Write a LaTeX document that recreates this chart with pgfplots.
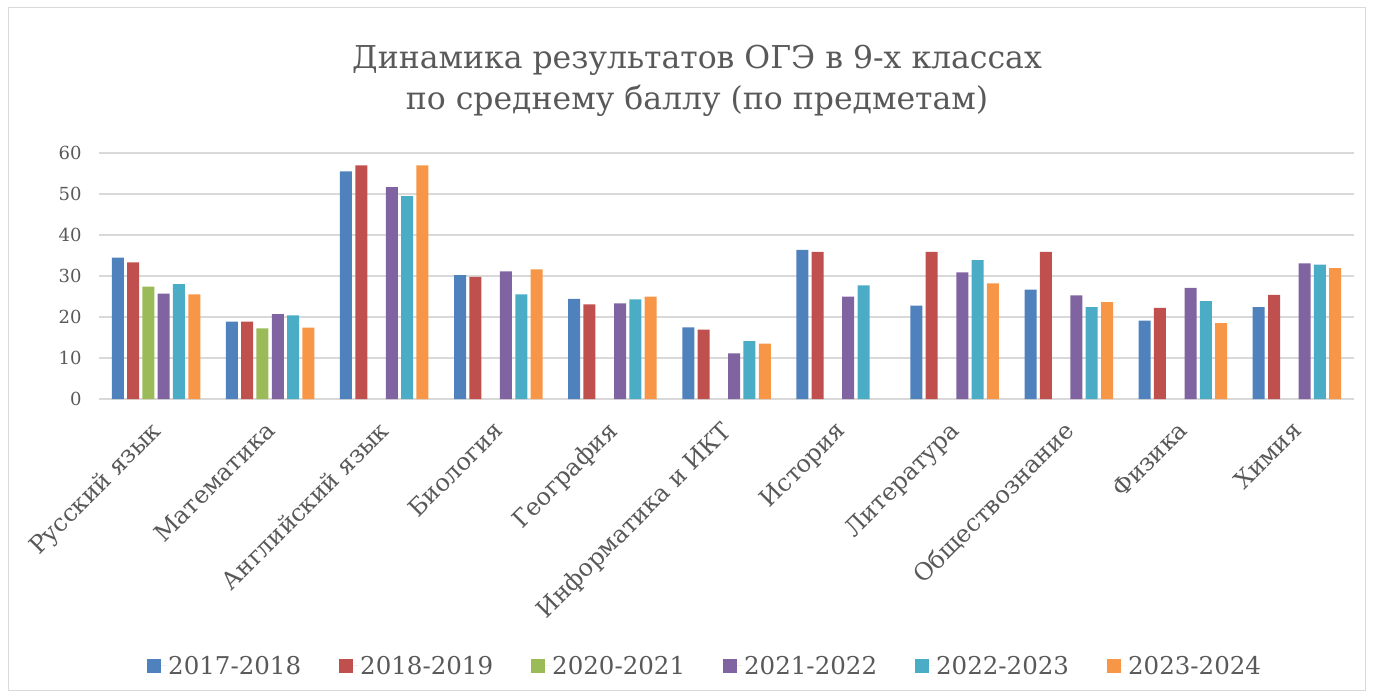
\documentclass[border=0pt]{standalone}
\usepackage{fontspec}
\setmainfont{DejaVu Serif}
\usepackage{pgfplots}
\pgfplotsset{compat=1.18}
\definecolor{c1}{HTML}{4F81BD}
\definecolor{c2}{HTML}{C0504D}
\definecolor{c3}{HTML}{9BBB59}
\definecolor{c4}{HTML}{8064A2}
\definecolor{c5}{HTML}{4BACC6}
\definecolor{c6}{HTML}{F79646}
\definecolor{txt}{HTML}{595959}
\definecolor{gridc}{HTML}{D9D9D9}
\begin{document}
\begin{tikzpicture}[x=1pt,y=1pt]
\path[use as bounding box] (0,0) rectangle (1374,697);
\draw[gridc, line width=1pt] (8.5,6.5) rectangle (1365.5,689.5);
\node[text=txt, font=\fontsize{31.5}{41}\selectfont, align=center] at (697,616) {Динамика результатов ОГЭ в 9-х классах\\по среднему баллу (по предметам)};
\begin{axis}[
  at={(99pt,298pt)}, anchor=south west, scale only axis,
  width=1255pt, height=246pt,
  ymin=0, ymax=60, xmin=-0.5, xmax=10.5,
  ytick={0,10,...,60},
  xtick={0,...,10},
  xticklabels={Русский язык,Математика,Английский язык,Биология,География,Информатика и ИКТ,История,Литература,Обществознание,Физика,Химия},
  ymajorgrids, major grid style={gridc, line width=1.5pt},
  axis line style={draw=none},
  major tick length=0pt,
  /pgf/number format/assume math mode=true,
  yticklabel style={text=txt, font=\fontsize{18}{20}\selectfont, anchor=east, xshift=-14pt},
  xticklabel style={text=txt, font=\fontsize{24}{26}\selectfont, rotate=45, anchor=north east, inner sep=0pt, xshift=-19pt, yshift=-10pt},
  ybar=3.3pt, bar width=12pt,
  legend columns=6,
  legend style={at={(0.483,-1.085)}, anchor=center, draw=none, fill=none, font=\fontsize{24.5}{26}\selectfont, text=txt,
    /tikz/every even column/.append style={column sep=36pt}},
  legend image code/.code={\fill[#1] (0pt,-7pt) rectangle (14pt,7pt); \path (0pt,0pt) -- (19pt,0pt);},
]
\addplot[fill=c1, draw=none] coordinates {(0,34.5) (1,18.9) (2,55.5) (3,30.2) (4,24.4) (5,17.5) (6,36.4) (7,22.8) (8,26.7) (9,19.1) (10,22.4)};
\addplot[fill=c2, draw=none] coordinates {(0,33.3) (1,18.9) (2,57.0) (3,29.8) (4,23.1) (5,16.9) (6,35.9) (7,35.9) (8,35.9) (9,22.2) (10,25.4)};
\addplot[fill=c3, draw=none] coordinates {(0,27.4) (1,17.2)};
\addplot[fill=c4, draw=none] coordinates {(0,25.7) (1,20.7) (2,51.7) (3,31.1) (4,23.3) (5,11.1) (6,25.0) (7,30.9) (8,25.3) (9,27.1) (10,33.1)};
\addplot[fill=c5, draw=none] coordinates {(0,28.0) (1,20.4) (2,49.5) (3,25.5) (4,24.3) (5,14.1) (6,27.7) (7,33.9) (8,22.4) (9,23.9) (10,32.8)};
\addplot[fill=c6, draw=none] coordinates {(0,25.5) (1,17.4) (2,57.0) (3,31.6) (4,25.0) (5,13.5) (7,28.2) (8,23.6) (9,18.5) (10,31.9)};
\legend{2017-2018,2018-2019,2020-2021,2021-2022,2022-2023,2023-2024}
\end{axis}
\end{tikzpicture}
\end{document}
